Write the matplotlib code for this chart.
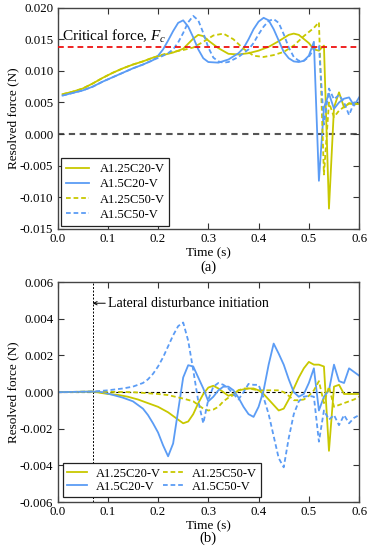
import matplotlib
matplotlib.use("Agg")
import matplotlib.pyplot as plt
import numpy as np

plt.rcParams['font.family'] = ['Liberation Serif', 'DejaVu Serif']
plt.rcParams['mathtext.fontset'] = 'custom'
plt.rcParams['mathtext.rm'] = 'Liberation Serif'
plt.rcParams['mathtext.it'] = 'Liberation Serif:italic'

# ---------------- data: panel (a) ----------------
t_a_y20 = [0.01, 0.03, 0.05, 0.07, 0.09, 0.11, 0.13, 0.15, 0.17, 0.19, 0.21, 0.23, 0.25, 0.27,
           0.28, 0.29, 0.30, 0.32, 0.34, 0.36, 0.38, 0.40, 0.42, 0.44, 0.46, 0.47, 0.48, 0.50,
           0.51, 0.52, 0.53, 0.54, 0.55, 0.56, 0.57, 0.58, 0.59, 0.60]
f_a_y20 = [0.0063, 0.0067, 0.0072, 0.0080, 0.0089, 0.0097, 0.0104, 0.0110, 0.0115, 0.0121, 0.0125,
           0.0129, 0.0135, 0.0151, 0.0157, 0.0155, 0.0148, 0.0136, 0.0127, 0.0126, 0.0128, 0.0132,
           0.0138, 0.0147, 0.0157, 0.0159, 0.0157, 0.0144, 0.0134, 0.0132, 0.0140, -0.0118, 0.0042,
           0.0066, 0.0042, 0.0049, 0.0047, 0.0048]

t_a_b20 = [0.01, 0.03, 0.05, 0.07, 0.09, 0.11, 0.13, 0.15, 0.17, 0.19, 0.20, 0.21, 0.22, 0.23,
           0.24, 0.25, 0.26, 0.27, 0.28, 0.29, 0.30, 0.32, 0.34, 0.36, 0.37, 0.38, 0.39, 0.40,
           0.41, 0.42, 0.43, 0.44, 0.45, 0.46, 0.47, 0.48, 0.49, 0.50, 0.51, 0.52, 0.53, 0.54,
           0.55, 0.56, 0.57, 0.58, 0.59, 0.60]
f_a_b20 = [0.0061, 0.0065, 0.0069, 0.0075, 0.0083, 0.0090, 0.0097, 0.0104, 0.0110, 0.0117, 0.0124,
           0.0134, 0.0148, 0.0163, 0.0176, 0.0180, 0.0170, 0.0153, 0.0134, 0.0120, 0.0114, 0.0113,
           0.0118, 0.0128, 0.0136, 0.0150, 0.0166, 0.0178, 0.0184, 0.0180, 0.0166, 0.0148, 0.0130,
           0.0120, 0.0115, 0.0114, 0.0116, 0.0124, 0.0146, -0.0074, 0.0042, 0.0064, 0.0040, 0.0050,
           0.0056, 0.0058, 0.0045, 0.0058]

t_a_y50 = [0.01, 0.03, 0.05, 0.07, 0.09, 0.11, 0.13, 0.15, 0.17, 0.19, 0.21, 0.23, 0.25, 0.27,
           0.29, 0.31, 0.33, 0.35, 0.37, 0.39, 0.41, 0.43, 0.45, 0.47, 0.49, 0.51, 0.52, 0.53,
           0.54, 0.55, 0.56, 0.57, 0.58, 0.59, 0.60]
f_a_y50 = [0.0063, 0.0067, 0.0072, 0.0080, 0.0089, 0.0097, 0.0104, 0.0110, 0.0115, 0.0121, 0.0126,
           0.0130, 0.0133, 0.0137, 0.0146, 0.0156, 0.0159, 0.0150, 0.0135, 0.0124, 0.0122, 0.0125,
           0.0130, 0.0140, 0.0155, 0.0168, 0.0177, -0.0064, 0.0050, 0.0027, 0.0037, 0.0043, 0.0048,
           0.0048, 0.0048]

t_a_b50 = [0.01, 0.03, 0.05, 0.07, 0.09, 0.11, 0.13, 0.15, 0.17, 0.19, 0.21, 0.22, 0.23, 0.24,
           0.25, 0.26, 0.27, 0.28, 0.29, 0.30, 0.31, 0.32, 0.33, 0.34, 0.36, 0.37, 0.38, 0.39,
           0.40, 0.41, 0.42, 0.43, 0.44, 0.45, 0.46, 0.47, 0.48, 0.49, 0.50, 0.51, 0.52, 0.53,
           0.54, 0.55, 0.56, 0.57, 0.58, 0.59, 0.60]
f_a_b50 = [0.0061, 0.0065, 0.0069, 0.0075, 0.0083, 0.0090, 0.0097, 0.0104, 0.0110, 0.0117, 0.0124,
           0.0128, 0.0134, 0.0145, 0.0160, 0.0177, 0.0187, 0.0180, 0.0160, 0.0137, 0.0121, 0.0115,
           0.0113, 0.0114, 0.0122, 0.0128, 0.0134, 0.0144, 0.0158, 0.0170, 0.0179, 0.0182, 0.0176,
           0.0158, 0.0137, 0.0122, 0.0116, 0.0116, 0.0122, 0.0135, 0.0140, 0.0015, 0.0072, 0.0055,
           0.0062, 0.0050, 0.0030, 0.0050, 0.0050]

critical_force = 0.0138

# ---------------- data: panel (b) ----------------
t_b_y20 = [0.00, 0.07, 0.10, 0.12, 0.14, 0.16, 0.18, 0.20, 0.22, 0.24, 0.25, 0.26, 0.27, 0.28,
           0.29, 0.30, 0.31, 0.32, 0.33, 0.34, 0.35, 0.36, 0.37, 0.38, 0.39, 0.40, 0.41, 0.42,
           0.43, 0.44, 0.45, 0.46, 0.47, 0.48, 0.49, 0.50, 0.51, 0.52, 0.53, 0.54, 0.55, 0.56,
           0.57, 0.58, 0.59, 0.60]
f_b_y20 = [0.0, 0.00003, -0.0001, -0.00015, -0.00025, -0.0004, -0.0006, -0.0008, -0.0011, -0.0015,
           -0.0017, -0.0016, -0.0012, -0.0006, -0.0001, 0.00025, 0.00035, 0.0002, 0.0, -0.0002,
           -0.0001, 0.0001, 0.00015, 0.0002, 0.0002, 0.0001, -0.0001, -0.0004, -0.0007, -0.0010,
           -0.0009, -0.0004, 0.0002, 0.0008, 0.0013, 0.00165, 0.0015, 0.0015, 0.0014, -0.0032,
           0.0003, 0.0004, -0.0001, -0.0001, -0.0001, -0.0001]

t_b_b20 = [0.00, 0.07, 0.09, 0.11, 0.13, 0.15, 0.17, 0.18, 0.19, 0.20, 0.21, 0.22, 0.23, 0.24,
           0.25, 0.26, 0.27, 0.28, 0.29, 0.30, 0.31, 0.32, 0.33, 0.34, 0.35, 0.36, 0.37, 0.38,
           0.39, 0.40, 0.41, 0.42, 0.43, 0.44, 0.45, 0.46, 0.47, 0.48, 0.49, 0.50, 0.51, 0.52,
           0.53, 0.54, 0.55, 0.56, 0.57, 0.58, 0.59, 0.60]
f_b_b20 = [0.0, 0.00003, 0.0, -0.00015, -0.0003, -0.0005, -0.0009, -0.00125, -0.0017, -0.0022,
           -0.0029, -0.0035, -0.0028, -0.0010, 0.0008, 0.00147, 0.0014, 0.0008, 0.0002, -0.0005,
           -0.00025, 0.0001, 0.0003, 0.0003, 0.0001, -0.0003, -0.0008, -0.0012, -0.00135, -0.0008,
           0.0001, 0.0015, 0.00265, 0.0021, 0.0015, 0.0007, 0.0, -0.00025, -0.0001, 0.0005, 0.0013,
           -0.0010, -0.00025, 0.0001, 0.0015, 0.0006, 0.0005, 0.0013, 0.0011, 0.0009]

t_b_y50 = [0.00, 0.07, 0.15, 0.20, 0.22, 0.25, 0.27, 0.28, 0.29, 0.30, 0.31, 0.32, 0.33, 0.34,
           0.35, 0.36, 0.37, 0.38, 0.40, 0.42, 0.44, 0.45, 0.46, 0.47, 0.48, 0.49, 0.50, 0.51,
           0.52, 0.53, 0.54, 0.55, 0.56, 0.57, 0.58, 0.59, 0.60]
f_b_y50 = [0.0, 0.00003, 0.0, -0.0001, -0.00016, -0.00035, -0.0005, -0.0007, -0.0009, -0.0010,
           -0.00095, -0.0008, -0.0005, -0.0003, -0.00016, 0.0001, 0.0002, 0.0002, 0.0001, 0.0001,
           0.0001, 0.0, -0.0002, -0.00044, -0.00044, -0.0004, -0.0002, 0.0001, 0.0006, -0.0006,
           0.0003, -0.0008, -0.0007, -0.0006, -0.0005, -0.0004, -0.00025]

t_b_b50 = [0.00, 0.07, 0.10, 0.13, 0.15, 0.17, 0.18, 0.19, 0.20, 0.21, 0.22, 0.23, 0.24, 0.25,
           0.26, 0.27, 0.28, 0.29, 0.30, 0.31, 0.32, 0.33, 0.34, 0.35, 0.36, 0.37, 0.38, 0.39,
           0.40, 0.41, 0.42, 0.43, 0.44, 0.45, 0.46, 0.47, 0.48, 0.49, 0.50, 0.51, 0.52, 0.53,
           0.54, 0.55, 0.56, 0.57, 0.58, 0.59, 0.60]
f_b_b50 = [0.0, 0.00003, 0.0001, 0.0002, 0.0003, 0.0005, 0.0007, 0.0010, 0.0014, 0.0019, 0.0025,
           0.0031, 0.0036, 0.0038, 0.0028, 0.0012, -0.0005, -0.0017, -0.0004, 0.0003, 0.0005, 0.0004,
           0.0002, -0.0001, -0.0004, 0.0, 0.00045, 0.0004, 0.0004, -0.0003, -0.0012, -0.0024,
           -0.0036, -0.0041, -0.0025, -0.0012, -0.0005, -0.00025, -0.0002, -0.00025, -0.0027,
           -0.0010, -0.0015, -0.00125, -0.0018, -0.00125, -0.0017, -0.0014, -0.00125]

disturbance_time = 0.07

labels = ['A1.25C20-V', 'A1.5C20-V', 'A1.25C50-V', 'A1.5C50-V']
x_ticks = [0.0, 0.1, 0.2, 0.3, 0.4, 0.5, 0.6]
y_ticks_a = [-0.015, -0.010, -0.005, 0.000, 0.005, 0.010, 0.015, 0.020]
y_ticks_b = [-0.006, -0.004, -0.002, 0.000, 0.002, 0.004, 0.006]

YEL = '#c8c800'
BLU = '#5b9cf5'
LW = 1.3
DASH = (2.6, 1.6)

fig = plt.figure(figsize=(3.71, 5.50), dpi=100)
axA = fig.add_axes([0.155, 0.584, 0.813, 0.402])
axB = fig.add_axes([0.155, 0.087, 0.813, 0.400])


def style(ax, yt, fmt):
    ax.set_xlim(0, 0.6)
    ax.set_xticks(x_ticks)
    ax.set_xticklabels(['%.1f' % v for v in x_ticks])
    ax.set_ylim(yt[0], yt[-1])
    ax.set_yticks(yt)
    ax.set_yticklabels([fmt % v if abs(v) > 1e-12 else fmt % 0 for v in yt])
    ax.tick_params(direction='in', top=True, right=True, length=4, width=0.8,
                   labelsize=9.3, pad=3, color='#333333')
    for s in ax.spines.values():
        s.set_color('#444444')
        s.set_linewidth(1.0)
    ax.set_xlabel('Time (s)', fontsize=9.5)
    ax.set_ylabel('Resolved force (N)', fontsize=9.5)
    ax.yaxis.set_label_coords(-0.128, 0.5)
    ax.xaxis.set_label_coords(0.5, -0.082)


# ---- panel (a) ----
axA.plot(t_a_y20, f_a_y20, color=YEL, lw=LW, label=labels[0])
axA.plot(t_a_b20, f_a_b20, color=BLU, lw=LW, label=labels[1])
axA.plot(t_a_y50, f_a_y50, color=YEL, lw=LW, dashes=DASH, label=labels[2])
axA.plot(t_a_b50, f_a_b50, color=BLU, lw=LW, dashes=DASH, label=labels[3])
axA.axhline(critical_force, color='#ee1111', lw=1.3, dashes=(3.2, 2.2), zorder=3)
axA.axhline(0.0, color='#555555', lw=1.5, dashes=(3.0, 2.2), zorder=1)
axA.text(0.008, 0.0154, 'Critical force, $F_c$', fontsize=11, va='center', ha='left')
style(axA, y_ticks_a, '%.3f')
legA = axA.legend(loc='lower left', fontsize=9, frameon=True, fancybox=False,
                  edgecolor='#222222', framealpha=1, handlelength=1.9, handletextpad=0.8,
                  labelspacing=0.25, borderpad=0.4, borderaxespad=0.25)
legA.get_frame().set_linewidth(0.9)

# ---- panel (b) ----
axB.plot(t_b_y20, f_b_y20, color=YEL, lw=LW, label=labels[0])
axB.plot(t_b_b20, f_b_b20, color=BLU, lw=LW, label=labels[1])
axB.plot(t_b_y50, f_b_y50, color=YEL, lw=LW, dashes=DASH, label=labels[2])
axB.plot(t_b_b50, f_b_b50, color=BLU, lw=LW, dashes=DASH, label=labels[3])
axB.axhline(0.0, color='black', lw=0.8, dashes=(3.0, 2.2), zorder=1)
axB.axvline(disturbance_time, color='black', lw=0.7, dashes=(2.0, 1.6), zorder=1)
axB.annotate('Lateral disturbance initiation', xy=(disturbance_time, 0.00485),
             xytext=(0.1005, 0.00485), fontsize=10, va='center', ha='left',
             arrowprops=dict(arrowstyle='->', lw=0.7, color='black',
                             shrinkA=0, shrinkB=0, mutation_scale=6))
style(axB, y_ticks_b, '%.3f')
legB = axB.legend(loc='lower left', ncol=2, fontsize=9, frameon=True, fancybox=False,
                  edgecolor='#222222', framealpha=1, handlelength=1.6, handletextpad=0.7,
                  labelspacing=0.1, borderpad=0.35, borderaxespad=0.4, columnspacing=0.2)
legB.get_frame().set_linewidth(0.9)

fig.text(0.561, 0.5145, '(a)', fontsize=10.5, ha='center', va='center')
fig.text(0.561, 0.021, '(b)', fontsize=10.5, ha='center', va='center')

fig.savefig('out.png', dpi=100)
